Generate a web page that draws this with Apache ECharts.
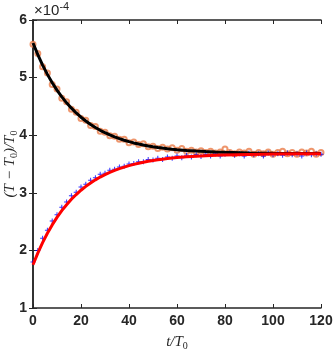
<!DOCTYPE html>
<html>
<head>
<meta charset="utf-8">
<script src="https://cdn.jsdelivr.net/npm/echarts@6/dist/echarts.min.js"></script>
<style>
  html, body { margin: 0; padding: 0; background: #fff; }
  #main { width: 333px; height: 350px; }
</style>
</head>
<body>
<div id="main"></div>
<script>
// sample times (t/T0)
const sampleT = [0,2,4,6,8,10,12,14,16,18,20,22,24,26,28,30,32,34,36,38,40,42,44,46,48,50,52,54,56,58,60,
  62,64,66,68,70,72,74,76,78,80,82,84,86,88,90,92,94,96,98,100,102,104,106,108,110,112,114,116,118,120];
// cooling data, units of 1e-4 (orange circles)
const coolData = [5.58,5.42,5.19,5.08,4.88,4.80,4.64,4.58,4.45,4.40,4.29,4.26,4.17,4.15,4.07,4.05,3.99,3.98,3.93,3.93,3.87,
  3.88,3.84,3.85,3.80,3.81,3.77,3.79,3.76,3.78,3.74,3.77,3.72,3.74,3.71,3.73,3.70,3.72,3.69,3.71,3.76,
  3.70,3.68,3.71,3.69,3.72,3.67,3.70,3.68,3.71,3.67,3.70,3.72,3.68,3.70,3.67,3.71,3.69,3.72,3.67,3.70];
// heating data, units of 1e-4 (blue plus)
const heatData = [1.80,2.00,2.21,2.35,2.51,2.62,2.75,2.84,2.95,3.01,3.10,3.15,3.22,3.26,3.32,3.34,3.39,3.41,3.45,3.46,3.50,
  3.51,3.54,3.54,3.58,3.57,3.60,3.58,3.62,3.60,3.64,3.61,3.65,3.62,3.66,3.63,3.67,3.64,3.68,3.64,3.67,
  3.69,3.65,3.68,3.64,3.69,3.66,3.68,3.64,3.69,3.66,3.68,3.65,3.69,3.66,3.68,3.64,3.69,3.66,3.68,3.67];
// fitted curves
const fitT = [0,2,4,6,8,10,12,14,16,18,20,22,24,26,28,30,32,34,36,38,40,42,44,46,48,50,52,54,56,58,60,64,68,72,76,80,90,100,110,120];
const coolFit = [5.600,5.398,5.217,5.056,4.911,4.782,4.666,4.562,4.469,4.386,4.312,4.246,4.186,4.133,4.085,4.043,4.004,3.970,3.940,3.913,
  3.888,3.866,3.847,3.829,3.813,3.799,3.787,3.776,3.766,3.757,3.749,3.735,3.724,3.715,3.708,3.702,3.693,3.687,3.684,3.682];
const heatFit = [1.750,1.953,2.135,2.298,2.443,2.573,2.690,2.793,2.887,2.970,3.045,3.111,3.171,3.225,3.273,3.315,3.354,3.388,3.419,3.446,
  3.471,3.493,3.512,3.531,3.546,3.560,3.572,3.584,3.594,3.603,3.611,3.625,3.635,3.644,3.652,3.658,3.667,3.673,3.676,3.678];

const pair = (xs, ys) => xs.map((x, i) => [x, ys[i]]);
const axisColor = '#262626';
const plusPath = 'path://M4,0H6V4H10V6H6V10H4V6H0V4H4Z';

const chart = echarts.init(document.getElementById('main'));
const xBase = {
  type: 'value', min: 0, max: 120, interval: 20,
  axisLine: { lineStyle: { color: axisColor, width: 1.5 } },
  axisTick: { inside: true, length: 4, lineStyle: { color: axisColor } },
  splitLine: { show: false }
};
const yBase = {
  type: 'value', min: 1, max: 6, interval: 1,
  axisLine: { show: true, lineStyle: { color: axisColor, width: 1.5 } },
  axisTick: { show: true, inside: true, length: 4, lineStyle: { color: axisColor } },
  splitLine: { show: false }
};
const labelStyle = { color: axisColor, fontSize: 14, fontWeight: 'bold', fontFamily: 'Liberation Sans, Arial' };
const nameRich = {
  it: { fontFamily: 'Liberation Serif', fontStyle: 'italic', fontSize: 15, color: axisColor },
  sub: { fontFamily: 'Liberation Serif', fontSize: 10, color: axisColor, padding: [8, 0, 0, 0] }
};
const graphicRich = {
  it: { fontFamily: 'Liberation Serif', fontStyle: 'italic', fontSize: 15, fill: axisColor },
  sub: { fontFamily: 'Liberation Serif', fontSize: 10, fill: axisColor, padding: [8, 0, 0, 0] }
};

chart.setOption({
  animation: false,
  grid: { left: 33, right: 12, top: 20, bottom: 42, outerBoundsMode: 'none', containLabel: false },
  xAxis: [
    Object.assign({}, xBase, {
      position: 'bottom',
      axisLabel: Object.assign({ margin: 6 }, labelStyle),
      name: '{it|t/T}{sub|0}', nameLocation: 'middle', nameGap: 25, nameMoveOverlap: false,
      nameTextStyle: { rich: nameRich }
    }),
    Object.assign({}, xBase, { position: 'top', axisLabel: { show: false } })
  ],
  yAxis: [
    Object.assign({}, yBase, {
      position: 'left',
      axisLabel: Object.assign({ margin: 6 }, labelStyle)
    }),
    Object.assign({}, yBase, { position: 'right', axisLabel: { show: false } })
  ],
  graphic: [
    {
      type: 'text', left: 34, top: 1,
      style: {
        text: '×10{sup|-4}',
        rich: { sup: { fontSize: 11, padding: [0, 0, 8, 0], fill: axisColor, fontFamily: 'Liberation Sans' } },
        fontSize: 15, fill: axisColor, fontFamily: 'Liberation Sans'
      }
    },
    {
      type: 'text', x: 10, y: 164, rotation: Math.PI / 2,
      style: {
        text: '{it|(T − T}{sub|0}{it|)/T}{sub|0}',
        rich: graphicRich, align: 'center', verticalAlign: 'middle'
      }
    }
  ],
  series: [
    {
      type: 'scatter', data: pair(sampleT, coolData),
      symbol: 'emptyCircle', symbolSize: 5,
      itemStyle: { color: '#EA7C48', borderWidth: 1 }
    },
    {
      type: 'scatter', data: pair(sampleT, heatData),
      symbol: plusPath, symbolSize: 5,
      itemStyle: { color: '#0000FF' }
    },
    {
      type: 'line', data: pair(fitT, coolFit), showSymbol: false,
      lineStyle: { color: '#000000', width: 3 }
    },
    {
      type: 'line', data: pair(fitT, heatFit), showSymbol: false,
      lineStyle: { color: '#FF0000', width: 3 }
    }
  ]
});
</script>
</body>
</html>
